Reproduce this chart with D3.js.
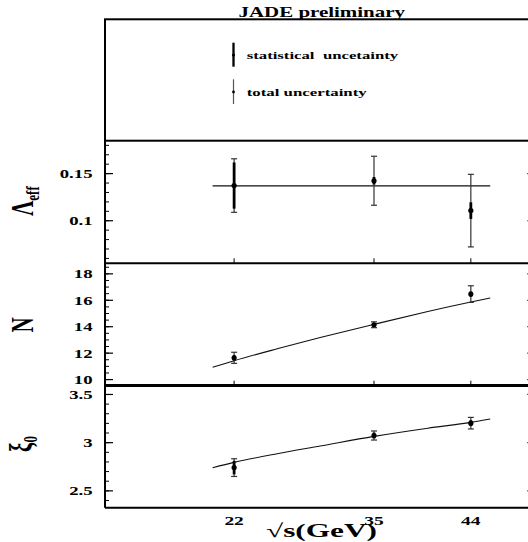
<!DOCTYPE html>
<html>
<head>
<meta charset="utf-8">
<script src="https://cdn.jsdelivr.net/npm/d3@7"></script>
<style>
  body { margin: 0; background: #fff; }
  svg { display: block; }
  text { font-family: "Liberation Serif", "Times New Roman", serif; font-weight: bold; fill: #000; }
</style>
</head>
<body>
<div id="chart"></div>
<script>
// Messpunkte (sqrt(s) in GeV)
const energies = [22, 35, 44];
const xTickLabels = ["22", "35", "44"];

const lambdaVal  = [0.1368, 0.1419, 0.1102];
const lambdaStat = [0.0245, 0.004, 0.0088];
const lambdaTot  = [0.0284, 0.026, 0.0385];

const nVal  = [11.61, 14.11, 16.43];
const nStat = [0.2, 0.1, 0.2];
const nTot  = [0.42, 0.22, 0.63];

const xiVal  = [2.736, 3.069, 3.197];
const xiStat = [0.07, 0.03, 0.03];
const xiTot  = [0.092, 0.047, 0.06];

// Fitkurven
const fitX      = [20, 22, 26, 30, 35, 40, 44, 45.8];
const lambdaFit = [0.1365, 0.1365, 0.1365, 0.1365, 0.1365, 0.1365, 0.1365, 0.1365];
const nFit      = [10.89, 11.39, 12.29, 13.14, 14.14, 15.11, 15.83, 16.13];
const xiFit     = [2.735, 2.79, 2.88, 2.96, 3.06, 3.145, 3.205, 3.24];

const lambdaTicks = [0.1, 0.15];
const nTicks      = [10, 12, 14, 16, 18];
const xiTicks     = [2.5, 3, 3.5];

const W = 528, H = 542;
const stretch = 1.5; // Text ist im Original horizontal gestreckt
const left = 105, right = 535.4;

const svg = d3.select("#chart").append("svg")
    .attr("width", W)
    .attr("height", H);

const x = d3.scaleLinear().domain([10, 50]).range([left, right]);

const panels = [
  {val: lambdaVal, stat: lambdaStat, tot: lambdaTot, fit: lambdaFit, ticks: lambdaTicks,
   domain: [0.0543, 0.1844], top: 140.7, bottom: 263.3, minorCount: 13, label: "Λ", sub: "eff", labelY: 201},
  {val: nVal, stat: nStat, tot: nTot, fit: nFit, ticks: nTicks,
   domain: [9.5, 18.76], top: 263.3, bottom: 385.7, minorCount: 18, label: "N", sub: "", labelY: 325},
  {val: xiVal, stat: xiStat, tot: xiTot, fit: xiFit, ticks: xiTicks,
   domain: [2.32, 3.59], top: 385.3, bottom: 507.7, minorCount: 12, label: "ξ", sub: "0", labelY: 444}
];

// Text mit fester Breite (gestreckt wie im Original)
function wideText(px, py, str, size, width, anchor) {
  return svg.append("text")
      .attr("x", px).attr("y", py)
      .attr("font-size", size)
      .attr("text-anchor", anchor || "start")
      .attr("textLength", width)
      .attr("lengthAdjust", "spacingAndGlyphs")
      .style("white-space", "pre")
      .text(str);
}

// Legendenkasten
svg.append("rect")
    .attr("x", left).attr("y", 19.3)
    .attr("width", right - left).attr("height", 140.7 - 19.3)
    .attr("fill", "none").attr("stroke", "#000").attr("stroke-width", 2);

wideText(238.5, 16.5, "JADE preliminary", 14, 166.5);

const legendX = 233.5;
svg.append("line").attr("x1", legendX).attr("x2", legendX).attr("y1", 42.7).attr("y2", 66.7)
    .attr("stroke", "#000").attr("stroke-width", 2.3);
svg.append("circle").attr("cx", legendX).attr("cy", 55).attr("r", 1.6).attr("fill", "#000");
wideText(246.7, 58.5, "statistical  uncetainty", 11.3, 151.5);

svg.append("line").attr("x1", legendX).attr("x2", legendX).attr("y1", 79.3).attr("y2", 104)
    .attr("stroke", "#555").attr("stroke-width", 1.2);
svg.append("circle").attr("cx", legendX).attr("cy", 92).attr("r", 1.4).attr("fill", "#000");
wideText(246.7, 95.5, "total uncertainty", 11.3, 120);

panels.forEach(function(p, i) {
  const y = d3.scaleLinear().domain(p.domain).range([p.bottom, p.top]);
  const g = svg.append("g");

  // Nebenstriche links
  g.append("g")
      .attr("transform", "translate(" + left + ",0)")
      .call(d3.axisLeft(y).ticks(p.minorCount).tickSize(-4).tickFormat(""))
      .call(s => s.select(".domain").remove())
      .selectAll("line").attr("stroke-width", 1);

  // Hauptstriche links mit Beschriftung
  const ax = g.append("g")
      .attr("transform", "translate(" + left + ",0)")
      .call(d3.axisLeft(y).tickValues(p.ticks).tickSize(-8).tickFormat(d3.format("")))
      .call(s => s.select(".domain").remove());
  ax.attr("font-family", null).attr("font-size", null);
  ax.selectAll("line").attr("stroke-width", 1.2);
  ax.selectAll("text")
      .attr("font-size", 12.5)
      .attr("x", -8.3)
      .attr("dy", "0.35em")
      .attr("transform", "scale(" + stretch + ",1)");

  // Hauptstriche rechts
  g.append("g")
      .attr("transform", "translate(" + right + ",0)")
      .call(d3.axisRight(y).tickValues(p.ticks).tickSize(-8).tickFormat(""))
      .call(s => s.select(".domain").remove())
      .selectAll("line").attr("stroke-width", 1.2);

  // Striche an der Unterkante fuer die Energien
  if (i < 2) {
    g.selectAll(".xtick")
      .data(energies)
      .join("line")
        .attr("x1", d => x(d)).attr("x2", d => x(d))
        .attr("y1", p.bottom).attr("y2", p.bottom - 5)
        .attr("stroke", "#000").attr("stroke-width", 1);
  }

  // Fitkurve
  const line = d3.line()
      .x(d => x(d[0]))
      .y(d => y(d[1]))
      .curve(d3.curveMonotoneX);
  g.append("path")
      .datum(d3.zip(fitX, p.fit))
      .attr("fill", "none")
      .attr("stroke", "#111")
      .attr("stroke-width", 1.1)
      .attr("d", line);

  const pts = energies.map((e, k) => ({e: e, v: p.val[k], s: p.stat[k], t: p.tot[k]}));

  // Gesamtfehler
  g.selectAll(".tot")
    .data(pts)
    .join("line")
      .attr("x1", d => x(d.e)).attr("x2", d => x(d.e))
      .attr("y1", d => y(d.v - d.t)).attr("y2", d => y(d.v + d.t))
      .attr("stroke", "#333").attr("stroke-width", 1.2);
  [-1, 1].forEach(function(sg) {
    g.selectAll(".cap" + sg)
      .data(pts)
      .join("line")
        .attr("x1", d => x(d.e) - 3).attr("x2", d => x(d.e) + 3)
        .attr("y1", d => y(d.v + sg * d.t)).attr("y2", d => y(d.v + sg * d.t))
        .attr("stroke", "#333").attr("stroke-width", 1.2);
  });

  // Statistischer Fehler
  g.selectAll(".stat")
    .data(pts)
    .join("line")
      .attr("x1", d => x(d.e)).attr("x2", d => x(d.e))
      .attr("y1", d => y(d.v - d.s)).attr("y2", d => y(d.v + d.s))
      .attr("stroke", "#000").attr("stroke-width", 2.8);

  g.selectAll("circle")
    .data(pts)
    .join("circle")
      .attr("cx", d => x(d.e)).attr("cy", d => y(d.v))
      .attr("r", 2.6)
      .attr("fill", "#000");

  // Achsentitel, gedreht
  const lab = svg.append("g")
      .attr("transform", "translate(" + (i === 2 ? 31 : 33) + "," + p.labelY + ") scale(" + stretch + ",1) rotate(-90)")
    .append("text")
      .attr("font-size", 21)
      .attr("text-anchor", "middle")
      .text(p.label);
  if (p.sub) {
    lab.append("tspan")
        .attr("font-size", 13)
        .attr("dy", "0.3em")
        .text(p.sub);
  }
});

// Rahmen der Panels
svg.append("line").attr("x1", left).attr("x2", right).attr("y1", 263.3).attr("y2", 263.3)
    .attr("stroke", "#000").attr("stroke-width", 2);
svg.append("line").attr("x1", left).attr("x2", right).attr("y1", 385.5).attr("y2", 385.5)
    .attr("stroke", "#000").attr("stroke-width", 2.8);
svg.append("line").attr("x1", left).attr("x2", right).attr("y1", 507.7).attr("y2", 507.7)
    .attr("stroke", "#000").attr("stroke-width", 2);
svg.append("line").attr("x1", left).attr("x2", left).attr("y1", 140.7).attr("y2", 507.7)
    .attr("stroke", "#000").attr("stroke-width", 2);

// x-Achse: nur Beschriftung
svg.selectAll(".xlab")
  .data(energies)
  .join("g")
    .attr("transform", d => "translate(" + x(d) + ",525) scale(" + stretch + ",1)")
  .append("text")
    .attr("font-size", 13)
    .attr("text-anchor", "middle")
    .text((d, k) => xTickLabels[k]);

wideText(266, 537, "√s(GeV)", 19, 111);
</script>
</body>
</html>
